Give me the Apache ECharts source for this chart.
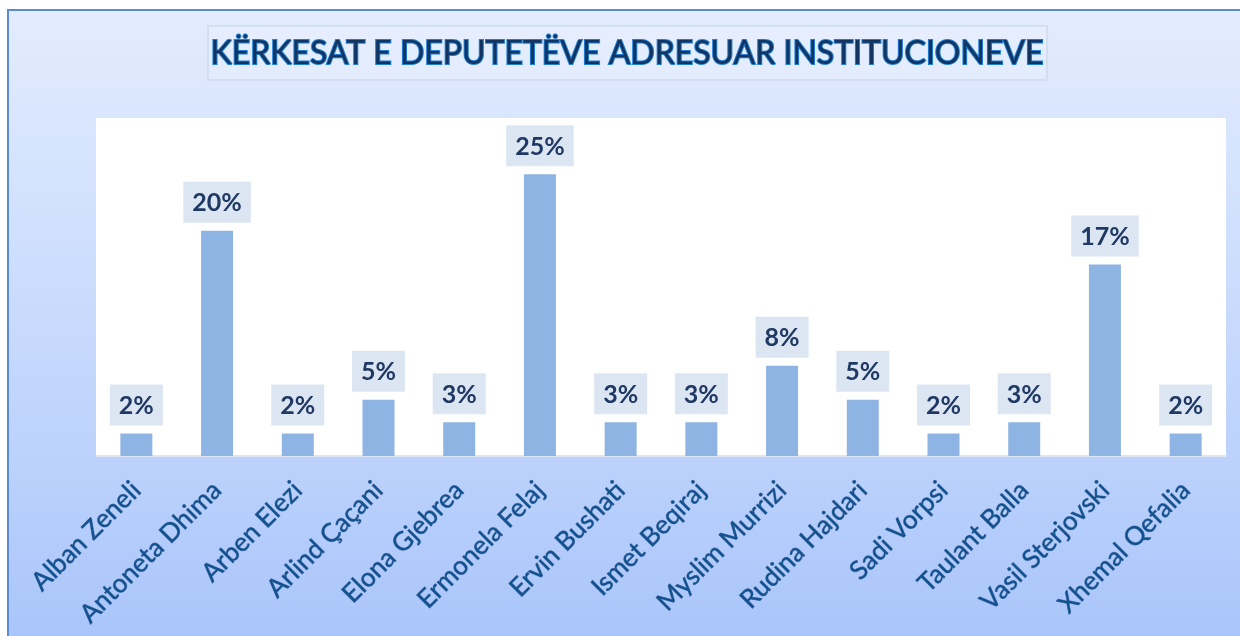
<!DOCTYPE html>
<html>
<head>
<meta charset="utf-8">
<script src="https://cdn.jsdelivr.net/npm/echarts@6/dist/echarts.min.js"></script>
<style>
  html, body { margin: 0; padding: 0; background: #fff; }
  #chart { width: 1240px; height: 636px; }
</style>
</head>
<body>
<div id="chart"></div>
<script>
const titleText = 'KËRKESAT E DEPUTETËVE ADRESUAR INSTITUCIONEVE';
const names = [
  'Alban Zeneli', 'Antoneta Dhima', 'Arben Elezi', 'Arlind Çaçani', 'Elona Gjebrea',
  'Ermonela Felaj', 'Ervin Bushati', 'Ismet Beqiraj', 'Myslim Murrizi', 'Rudina Hajdari',
  'Sadi Vorpsi', 'Taulant Balla', 'Vasil Sterjovski', 'Xhemal Qefalia'
];
// percentage values
const shares = [2, 20, 2, 5, 3, 25, 3, 3, 8, 5, 2, 3, 17, 2];

const chart = echarts.init(document.getElementById('chart'));
chart.setOption({
  animation: false,
  backgroundColor: '#fff',
  graphic: [
    {
      type: 'rect',
      z: -10,
      shape: { x: 8, y: 10, width: 1240, height: 640 },
      style: {
        fill: {
          type: 'linear', x: 0, y: 0, x2: 0, y2: 1,
          colorStops: [
            { offset: 0, color: '#E3ECFE' },
            { offset: 0.7, color: '#BCD2FC' },
            { offset: 1, color: '#A8C4FA' }
          ]
        },
        stroke: '#5B8BD0',
        lineWidth: 2
      }
    },
    {
      type: 'rect',
      z: -5,
      shape: { x: 208, y: 26, width: 839, height: 54 },
      style: { fill: 'rgba(255,255,255,0.18)', stroke: '#D3DFF1', lineWidth: 2 }
    },
    {
      type: 'text',
      x: 627,
      y: 54,
      style: {
        text: titleText,
        textAlign: 'center',
        textVerticalAlign: 'middle',
        font: '32px Lato',
        fill: '#12345F',
        stroke: '#1F7FD6',
        lineWidth: 2
      }
    }
  ],
  grid: {
    left: 96, right: 14, top: 118, bottom: 180,
    show: true, backgroundColor: '#fff', borderWidth: 0
  },
  xAxis: {
    type: 'category',
    data: names,
    axisLine: { lineStyle: { color: '#DDE6F3', width: 2 } },
    axisTick: { show: false },
    axisLabel: {
      interval: 0,
      rotate: 45,
      margin: 30,
      fontFamily: 'Lato',
      fontSize: 26,
      color: '#10518F',
      textBorderColor: 'rgba(10,45,100,0.5)',
      textBorderWidth: 0.8
    }
  },
  yAxis: {
    type: 'value', min: 0, max: 30, show: false,
    splitLine: { show: false }
  },
  series: [{
    type: 'bar',
    data: shares,
    barWidth: 32,
    itemStyle: { color: '#8EB4E3' },
    label: {
      show: true,
      position: 'top',
      distance: 8,
      formatter: '{c}%',
      fontFamily: 'Lato',
      fontWeight: 'bold',
      fontSize: 25,
      color: '#1F3864',
      backgroundColor: '#DCE6F2',
      padding: [9, 9, 7, 9]
    }
  }]
});
</script>
</body>
</html>
